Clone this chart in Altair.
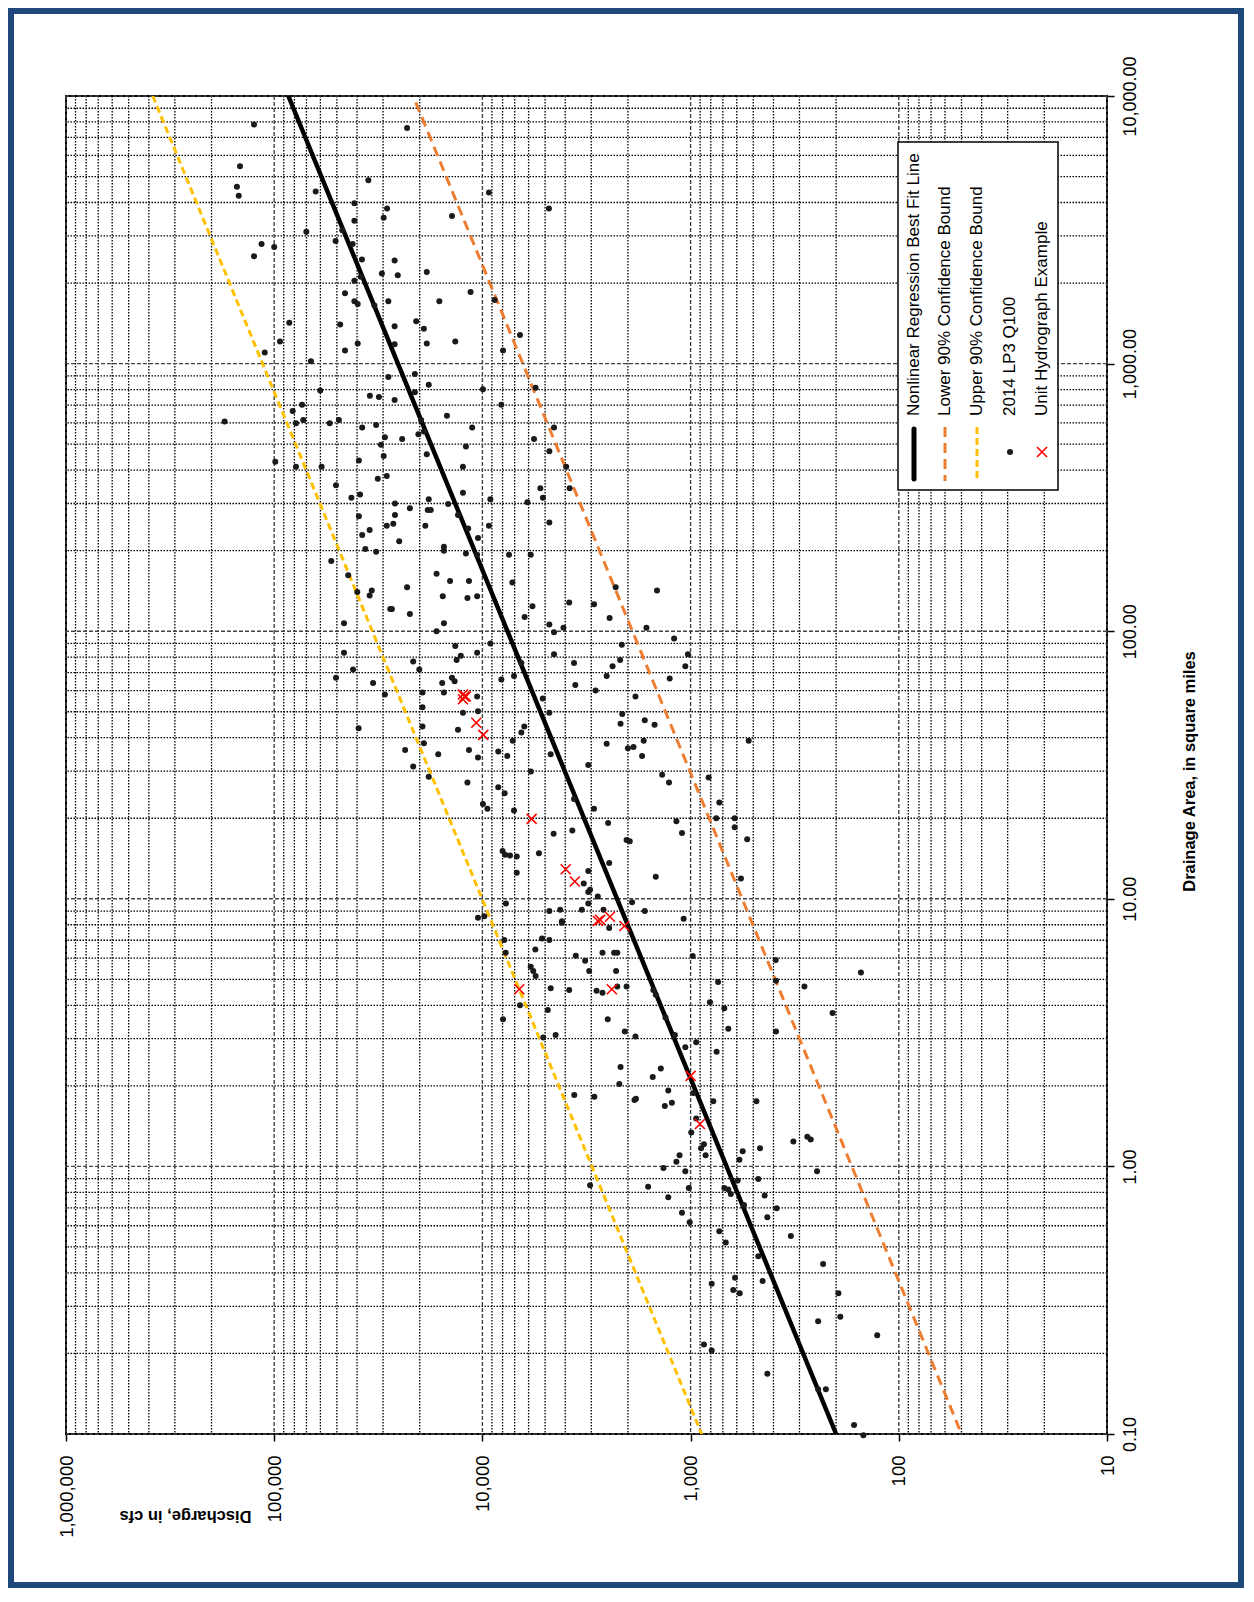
import altair as alt
import pandas as pd

# ---------------- data ----------------
# 2014 LP3 Q100 sites: drainage area (sq mi) and discharge (cfs)
area_sqmi = [
    7830, 7600, 5460, 4580, 4240, 4840, 4400, 4360, 3970, 3800, 3800, 3510, 3420, 3560, 3110, 3150,
    2870, 2800, 2800, 2730, 2520, 2450, 2430, 2200, 2170, 2140, 2110, 2040, 1850, 1830, 1710, 1670,
    1650, 1710, 1710, 1730, 1420, 1400, 1380, 1440, 1350, 1280, 1210, 1190, 1180, 1190, 1210, 1100,
    1120, 1120, 1020, 891, 915, 834, 802, 813, 793, 759, 750, 731, 782, 702, 702, 665, 638, 607, 615,
    598, 598, 615, 590, 615,
    577, 531, 497, 523, 545, 557, 577, 577, 523, 490, 470, 458, 452, 430, 434, 412, 412, 412, 412,
    380, 371, 351, 342, 342, 329, 315, 324, 311, 311, 315, 303, 300, 299, 288, 284, 284, 269, 272,
    272, 255, 239, 248, 252, 248, 248, 242, 229, 223, 217, 203, 198, 207, 200, 195, 193, 193, 193,
    183, 162, 164, 154, 154, 152, 146, 142, 140, 142, 136, 146, 135, 133, 135, 128, 126, 124, 121,
    121, 116, 113, 112, 107, 107, 106, 100, 99, 103, 103, 94, 90, 89, 88, 83, 83, 82, 81, 78, 82,
    77, 76, 78, 72, 72, 74, 74, 76, 67, 67, 68, 66, 68, 66.5, 64, 64, 65, 63, 58, 59, 59, 57, 60,
    57, 56, 43.4,
    52, 49.6, 50.2, 49.6, 49, 45.1, 46.5, 44.7, 44, 42.8, 44, 41.8, 36, 31.2, 38.1, 34.7, 36, 33.7,
    28.6, 27.2, 35.5, 34.2, 39, 29.9, 34.7, 31.6, 38, 36.5, 36.9, 39, 34.2, 29.1, 27.2, 28.4, 39,
    26.1, 24.8, 22.6, 21.7, 21.4, 23.6, 21.7, 22.9, 19.2, 19.5, 17.6, 20, 20, 18.5, 16.7, 17.5, 18,
    16.6, 16.4, 15.1, 14.6, 14.5, 14.4, 14.8, 12.5, 12.7, 13.6, 12.1, 11.9, 11.4, 10.8, 10.6, 10.2,
    9.6, 9.7, 9.6, 9.0, 9.1, 9.1, 9.1, 9.0, 8.5, 8.6, 8.24, 8.14, 7.78, 8.43, 7.01, 7.10, 7.01, 6.46,
    6.29, 6.12, 6.29, 6.29, 6.29, 6.11,
    5.57, 5.37, 5.15, 5.87, 5.37, 5.37, 4.63, 4.56, 4.0, 3.55, 3.84, 4.53, 4.46, 4.70, 4.70, 3.55,
    3.03, 3.10, 3.19, 3.06, 4.56, 4.38, 3.60, 3.10, 4.11, 4.89, 3.90, 3.27, 4.94, 5.90, 4.70, 3.74,
    3.19, 2.79, 2.91, 2.68, 2.35, 2.03, 2.32, 2.16, 1.85, 1.82, 1.77, 1.79, 1.92, 1.68, 1.73, 1.88,
    1.75, 1.75, 1.51, 1.34, 1.24, 1.29, 1.26, 1.17, 1.21, 1.10, 1.10, 1.04, 1.14, 1.06, 1.17, 0.986,
    0.96, 0.96, 0.851, 0.84, 0.83, 0.83, 0.82, 0.885, 0.897,
    0.767, 0.671, 0.619, 0.789, 0.778, 0.718, 0.697, 0.646, 0.572, 0.520, 0.550, 0.462, 0.432, 0.384,
    0.373, 0.364, 0.345, 0.336, 0.336, 0.264, 0.274, 0.234, 0.216, 0.205, 0.168, 0.147, 0.147, 0.108,
    0.099, 5.3,
]
q100_cfs = [
    125000, 23000, 146000, 151000, 148000, 35300, 63200, 9300, 41200, 28700, 4790, 29800, 41200, 14000,
    70100, 47100, 50700, 42000, 115000, 100000, 125000, 37900, 26400, 18500, 30400, 25500, 38400,
    41200, 11400, 45700, 41200, 39700, 33000, 28300, 16100, 8730, 84600, 48200, 26400, 20800, 19100,
    6600, 93800, 39700, 26400, 18500, 13500, 111000, 45700, 7960, 66600, 28300, 21100, 18100, 9940,
    5550, 60100, 34700, 31400, 26400, 21100, 8110, 73500, 81500, 14800, 173000, 72500, 78600, 54100,
    48900, 32400, 19700,
    37800, 29400, 30700, 24300, 20300, 19100, 11200, 4530, 5650, 12000, 4770, 18500, 29800, 98800,
    39200, 78600, 59200, 12400, 3960, 28800, 31800, 50500, 3810, 5270, 12400, 42600, 38700, 18100,
    9160, 5120, 6080, 26300, 14600, 22300, 18300, 17700, 39200, 26300, 13100, 4770, 34800, 28800,
    26800, 18800, 9300, 11700, 37800, 10500, 25100, 36500, 32400, 15300, 15300, 12000, 10600, 7450,
    5860, 53200, 44100, 16600, 14300, 11600, 7180, 2290, 1450, 39900, 34000, 34800, 23000, 15500,
    11800, 10600, 3830, 2910, 5750, 27700, 27200, 22300, 6270, 2450, 46200, 15300, 4770, 16600, 4530,
    4080, 1630, 1200, 9160, 2140, 13500, 46200, 10600, 4530, 12700, 13300, 1030, 21500, 3630, 2180,
    41800, 20100, 2370, 1060, 6500, 50500, 14000, 7050, 8110, 2530, 1260, 33500, 15600, 13600, 3580,
    29400, 19400, 15300, 10600, 2860, 1840, 5130, 39300,
    19400, 12400, 10500, 4770, 2130, 2170, 1660, 1490, 19400, 13100, 6290, 6500, 23500, 21500, 19100,
    16300, 11600, 10500, 18100, 11800, 8390, 7590, 7150, 5850, 4700, 3100, 2530, 2000, 1880, 1680,
    1710, 1370, 1270, 819, 526, 8390, 7820, 9940, 9460, 7050, 3630, 2910, 728, 2490, 1170, 1100, 753,
    614, 614, 535, 4550, 3700, 2030, 1960, 8000, 7780, 7370, 6840, 5350, 6840, 3100, 2460, 1470, 573,
    3260, 3040, 3100, 2790, 3100, 1910, 7710, 4770, 4230, 3330, 2620, 1660, 10500, 9790, 4150, 4150,
    2460, 1080, 7850, 5170, 4770, 5570, 7730, 3560, 2650, 2330, 2250, 977,
    5860, 5700, 5550, 3210, 3070, 2280, 4700, 3830, 6600, 7960, 4850, 2830, 2650, 2250, 2030, 2500,
    5100, 4450, 2070, 1840, 1510, 1470, 1320, 1190, 807, 738, 689, 659, 389, 390, 284, 208, 389, 1060,
    940, 750, 2170, 2200, 1390, 1520, 3620, 2900, 1860, 1830, 1280, 1330, 1230, 971, 778, 483, 940,
    993, 321, 275, 265, 891, 863, 847, 1130, 1170, 562, 583, 464, 1350, 1060, 247, 3040, 1600, 1020,
    689, 659, 594, 473,
    1280, 1100, 1010, 641, 441, 554, 386, 428, 728, 678, 330, 473, 231, 612, 451, 792, 624, 581, 195,
    244, 191, 127, 863, 792, 428, 244, 224, 164, 148, 152,
]

# Unit hydrograph example sites
uh_area_sqmi = [58, 57, 55.7, 57, 45.5, 41, 19.9, 12.9, 11.6, 8.26, 8.34, 8.57, 7.91, 4.59, 4.59, 2.18, 1.44]
uh_q_cfs = [12400, 12200, 12400, 12000, 10700, 9900, 5800, 3980, 3600, 2790, 2720, 2440, 2080, 6650, 2390, 1000, 902]

# Regression line and 90% bounds (end points)
fit_area = [0.1, 10000]
fit_q = [200, 85500]
upper_area = [0.1, 10000]
upper_q = [885, 383000]
lower_area = [0.1, 9470]
lower_q = [50, 20900]

q_ticks = [10, 100, 1000, 10000, 100000, 1000000]
area_ticks = [0.1, 1, 10, 100, 1000, 10000]
minor_mult = [2, 3, 4, 5, 6, 7, 8, 9]

legend_labels = [
    "Nonlinear Regression Best Fit Line",
    "Lower 90% Confidence Bound",
    "Upper 90% Confidence Bound",
    "2014 LP3 Q100",
    "Unit Hydrograph Example",
]

# ---------------- chart ----------------
q_minor = [m * t for t in q_ticks[:-1] for m in minor_mult]
area_minor = [round(m * t, 6) for t in area_ticks[:-1] for m in minor_mult]

FONT = "Liberation Sans"
W, H = 1041, 1338

xs = alt.Scale(type="log", domain=[10, 1000000], reverse=True, nice=False)
ys = alt.Scale(type="log", domain=[0.1, 10000], nice=False)

x_axis = alt.Axis(
    values=q_ticks, format=",.0f", grid=False, domain=False,
    labelAngle=270, labelAlign="right", labelBaseline="middle",
    labelFont=FONT, labelFontSize=18.5, labelColor="black", labelPadding=14,
    labelFlush=False, labelOverlap=False,
    ticks=True, tickSize=7, tickColor="black", tickWidth=1.5,
    title="Discharge, in cfs", titleFont=FONT, titleFontSize=16.5, titleFontWeight="bold",
    titleColor="black", titleAngle=180, titleX=119, titleY=81,
    titleAlign="center", titleBaseline="middle",
)
y_axis = alt.Axis(
    orient="right", values=area_ticks, format=",.2f", grid=False, domain=False,
    labelAngle=270, labelAlign="center", labelBaseline="top",
    labelFont=FONT, labelFontSize=18, labelColor="black", labelPadding=7,
    labelFlush=False, labelOverlap=False,
    ticks=True, tickSize=7, tickColor="black", tickWidth=1.5,
    title="Drainage Area, in square miles", titleFont=FONT, titleFontSize=16.5,
    titleFontWeight="bold", titleColor="black", titleAngle=270, titleX=82, titleY=675,
    titleAlign="center", titleBaseline="middle",
)


def X():
    return alt.X("q:Q", scale=xs, axis=x_axis)


def Y():
    return alt.Y("area:Q", scale=ys, axis=y_axis)


one = alt.Data(values=[{"k": 1}])

frame = alt.Chart(one).mark_rect(fillOpacity=0, stroke="#1F497D", strokeWidth=6).encode(
    x=alt.value(-55), x2=alt.value(1175), y=alt.value(-85), y2=alt.value(1489)
)

gx_minor = alt.Chart(pd.DataFrame({"q": q_minor})).mark_rule(
    color="black", strokeWidth=1.3, strokeDash=[1.5, 1.5]).encode(x=X())
gx_major = alt.Chart(pd.DataFrame({"q": q_ticks})).mark_rule(
    color="#444444", strokeWidth=1.4, strokeDash=[4, 2]).encode(x=X())
gy_minor = alt.Chart(pd.DataFrame({"area": area_minor})).mark_rule(
    color="black", strokeWidth=1.3, strokeDash=[1.5, 1.5]).encode(y=Y())
gy_major = alt.Chart(pd.DataFrame({"area": area_ticks})).mark_rule(
    color="#444444", strokeWidth=1.4, strokeDash=[4, 2]).encode(y=Y())

lower = alt.Chart(pd.DataFrame({"area": lower_area, "q": lower_q})).mark_line(
    color="#ED7D31", strokeWidth=3, strokeDash=[10, 6]).encode(x=X(), y=Y())
upper = alt.Chart(pd.DataFrame({"area": upper_area, "q": upper_q})).mark_line(
    color="#FFC000", strokeWidth=3, strokeDash=[7, 4]).encode(x=X(), y=Y())
fit = alt.Chart(pd.DataFrame({"area": fit_area, "q": fit_q})).mark_line(
    color="black", strokeWidth=4.5).encode(x=X(), y=Y())

pts = alt.Chart(pd.DataFrame({"area": area_sqmi, "q": q100_cfs})).mark_circle(
    size=36, color="#1a1a1a", opacity=1).encode(x=X(), y=Y())

XSHAPE = "M-1,-1L1,1M-1,1L1,-1"
reds = alt.Chart(pd.DataFrame({"area": uh_area_sqmi, "q": uh_q_cfs})).mark_point(
    shape=XSHAPE, size=100, filled=False, color="#FF0000", strokeWidth=1.6, opacity=1
).encode(x=X(), y=Y())

# ---- legend (drawn by hand so the text can be rotated) ----
leg_x = [848, 879, 911, 944, 976]
leg_box = alt.Chart(one).mark_rect(fill="white", stroke="black", strokeWidth=1.5).encode(
    x=alt.value(832), x2=alt.value(992), y=alt.value(46), y2=alt.value(394))
leg_fit = alt.Chart(one).mark_rule(color="black", strokeWidth=5, strokeCap="round").encode(
    x=alt.value(leg_x[0]), y=alt.value(333), y2=alt.value(383))
leg_low = alt.Chart(one).mark_rule(color="#ED7D31", strokeWidth=3, strokeDash=[10, 6]).encode(
    x=alt.value(leg_x[1]), y=alt.value(331), y2=alt.value(385))
leg_up = alt.Chart(one).mark_rule(color="#FFC000", strokeWidth=3, strokeDash=[7, 4]).encode(
    x=alt.value(leg_x[2]), y=alt.value(331), y2=alt.value(385))
leg_pt = alt.Chart(one).mark_circle(size=36, color="#1a1a1a", opacity=1).encode(
    x=alt.value(leg_x[3]), y=alt.value(356))
leg_x_mark = alt.Chart(one).mark_point(
    shape=XSHAPE, size=100, filled=False, color="#FF0000", strokeWidth=1.6, opacity=1
).encode(x=alt.value(leg_x[4]), y=alt.value(356))

leg_texts = [
    alt.Chart(one).mark_text(
        text=lab, angle=270, align="left", baseline="middle",
        font=FONT, fontSize=17, color="black"
    ).encode(x=alt.value(leg_x[i]), y=alt.value(320))
    for i, lab in enumerate(legend_labels)
]

chart = alt.layer(
    frame, gx_minor, gy_minor, gx_major, gy_major,
    lower, upper, fit, pts, reds,
    leg_box, leg_fit, leg_low, leg_up, leg_pt, leg_x_mark, *leg_texts,
).properties(width=W, height=H, padding=0).configure_view(stroke="black", strokeWidth=2)

chart.save("out.html", embed_options={"renderer": "svg", "actions": False})
